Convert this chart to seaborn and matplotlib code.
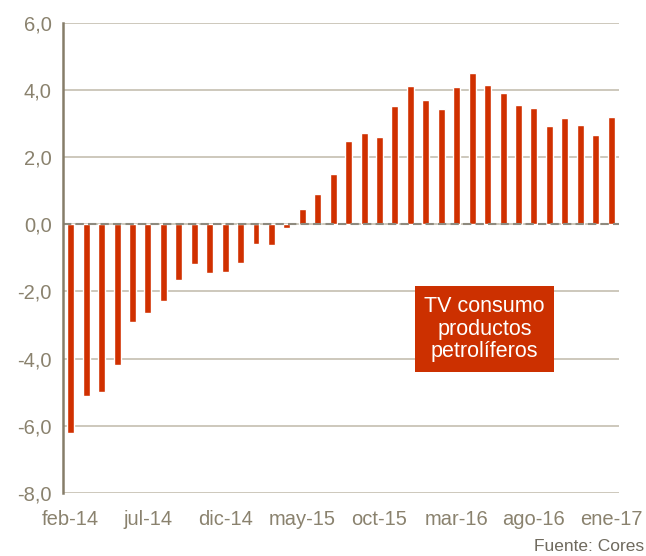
import matplotlib

matplotlib.use("Agg")

import matplotlib.pyplot as plt
import pandas as pd
import seaborn as sns
from matplotlib.ticker import FuncFormatter, MultipleLocator


MONTHS = [
    "feb-14", "mar-14", "abr-14", "may-14", "jun-14", "jul-14", "ago-14", "sep-14",
    "oct-14", "nov-14", "dic-14", "ene-15", "feb-15", "mar-15", "abr-15", "may-15",
    "jun-15", "jul-15", "ago-15", "sep-15", "oct-15", "nov-15", "dic-15", "ene-16",
    "feb-16", "mar-16", "abr-16", "may-16", "jun-16", "jul-16", "ago-16", "sep-16",
    "oct-16", "nov-16", "dic-16", "ene-17",
]
TV_VALUES = [
    -6.2, -5.1, -5.0, -4.2, -2.9, -2.65, -2.28, -1.65, -1.2, -1.45, -1.42, -1.16,
    -0.59, -0.62, -0.12, 0.45, 0.89, 1.49, 2.46, 2.71, 2.59, 3.53, 4.10, 3.68,
    3.44, 4.09, 4.50, 4.13, 3.89, 3.56, 3.45, 2.91, 3.15, 2.94, 2.64, 3.20,
]
TICK_EVERY = 5
LABEL_TEXT = "TV consumo\nproductos\npetrolíferos"
SOURCE_TEXT = "Fuente: Cores"

BAR_COLOR = "#D03000"
GRID_COLOR = "#C9C4B6"
AXIS_COLOR = "#867D69"
TEXT_COLOR = "#8A826E"


def setup_theme() -> None:
    sns.set_theme(style="white")
    plt.rcParams["font.family"] = ["Liberation Sans", "DejaVu Sans"]
    plt.rcParams["figure.facecolor"] = "white"
    plt.rcParams["axes.facecolor"] = "white"


def main() -> None:
    setup_theme()
    df = pd.DataFrame({"mes": MONTHS, "tv": TV_VALUES})

    fig = plt.figure(figsize=(6.46, 5.56), dpi=100)
    ax = fig.add_axes([0.0975, 0.1133, 0.8605, 0.8462])
    sns.barplot(data=df, x="mes", y="tv", color=BAR_COLOR, width=0.45, saturation=1, ax=ax, zorder=3)

    ax.set_ylim(-8, 6)
    ax.set_xlim(-0.5, len(MONTHS) - 0.5)
    ax.yaxis.set_major_locator(MultipleLocator(2))
    ax.yaxis.set_major_formatter(FuncFormatter(lambda v, _: f"{v:.1f}".replace(".", ",")))
    ax.grid(axis="y", color=GRID_COLOR, linewidth=1.3, zorder=0)
    ax.grid(axis="x", visible=False)
    ax.axhline(0, color="#8E8A7E", linewidth=1.5, linestyle=(0, (4, 2)), zorder=4)

    ticks = list(range(0, len(MONTHS), TICK_EVERY))
    ax.set_xticks(ticks)
    ax.set_xticklabels([MONTHS[i] for i in ticks])
    ax.set_xlabel("")
    ax.set_ylabel("")
    ax.tick_params(axis="both", length=0, labelsize=14.5, colors=TEXT_COLOR)
    ax.tick_params(axis="x", pad=12)
    ax.tick_params(axis="y", pad=8)

    for side in ("top", "right", "bottom"):
        ax.spines[side].set_visible(False)
    ax.spines["left"].set_color(AXIS_COLOR)
    ax.spines["left"].set_linewidth(1.8)
    ax.spines["left"].set_zorder(5)

    ax.text(
        26.8, -3.12, LABEL_TEXT, ha="center", va="center", color="white",
        fontsize=15.5, linespacing=1.1, zorder=6,
        bbox=dict(boxstyle="square,pad=0.45", facecolor="#CC3000", edgecolor="none"),
    )

    fig.text(0.997, 0.003, SOURCE_TEXT, ha="right", va="bottom", color="#6F6A5E", fontsize=12.5)

    fig.savefig("out.png", dpi=100)
    plt.close(fig)


if __name__ == "__main__":
    main()
